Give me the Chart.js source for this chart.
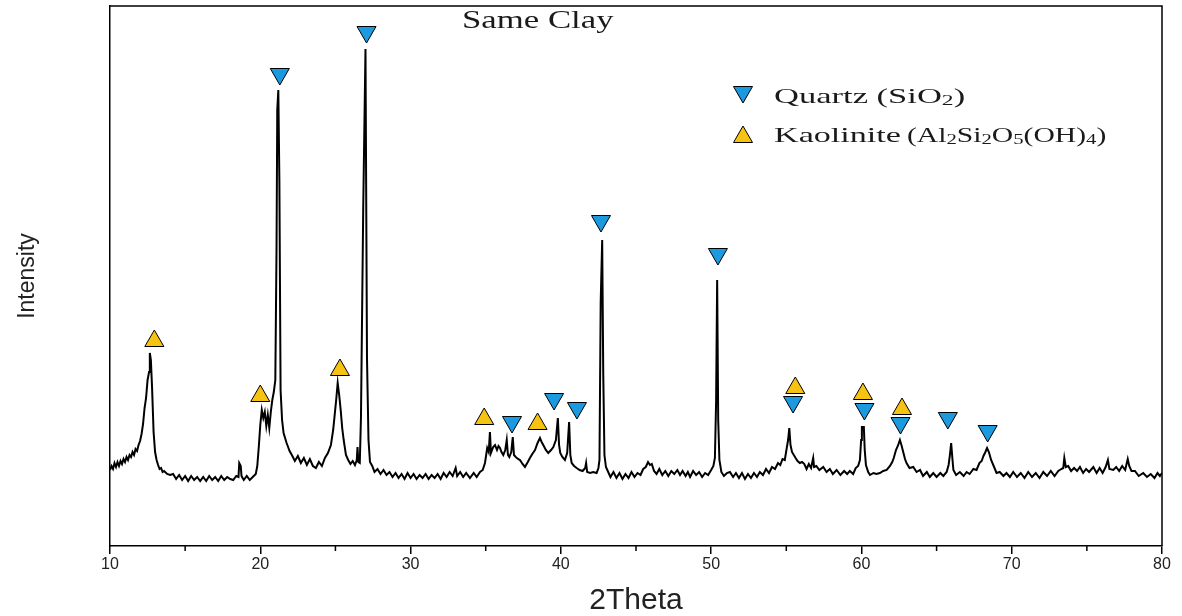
<!DOCTYPE html>
<html>
<head>
<meta charset="utf-8">
<script src="https://cdn.jsdelivr.net/npm/chart.js@4.4.1/dist/chart.umd.min.js"></script>
<style>
    html, body { margin: 0; padding: 0; background: #fff; }
    #wrap { width: 1182px; height: 616px; }
</style>
</head>
<body>
<div id="wrap"><canvas id="xrdChart"></canvas></div>
<script>
// XRD pattern (intensity in arbitrary units)
const twoTheta = [
    10.0, 10.1, 10.2, 10.3, 10.4, 10.5, 10.6, 10.7, 10.8, 10.9,
    11.0, 11.1, 11.2, 11.3, 11.4, 11.5, 11.6, 11.7, 11.8, 11.9,
    12.0, 12.1, 12.2, 12.3, 12.4, 12.5, 12.6, 12.65, 12.72, 12.8,
    12.9, 13.0, 13.1, 13.2, 13.3, 13.4, 13.5, 13.6, 13.8, 14.0,
    14.2, 14.4, 14.6, 14.8, 15.0, 15.2, 15.4, 15.6, 15.8, 16.0,
    16.2, 16.4, 16.6, 16.8, 17.0, 17.2, 17.4, 17.6, 17.8, 18.0,
    18.2, 18.4, 18.55, 18.6, 18.7, 18.75, 18.9, 19.1, 19.3, 19.5,
    19.7, 19.8, 19.9, 20.0, 20.1, 20.2, 20.3, 20.4, 20.5, 20.6,
    20.7, 20.8, 20.9, 21.0, 21.08, 21.13, 21.2, 21.27, 21.35, 21.45,
    21.55, 21.65, 21.75, 21.85, 21.95, 22.1, 22.3, 22.5, 22.7, 22.9,
    23.1, 23.3, 23.5, 23.7, 23.9, 24.1, 24.3, 24.5, 24.7, 24.85,
    24.95, 25.05, 25.15, 25.25, 25.35, 25.45, 25.55, 25.7, 25.85, 26.0,
    26.15, 26.3, 26.42, 26.47, 26.52, 26.62, 26.7, 26.85, 27.0, 27.1,
    27.2, 27.3, 27.45, 27.6, 27.8, 28.0, 28.2, 28.4, 28.6, 28.8,
    29.0, 29.2, 29.4, 29.6, 29.8, 30.0, 30.2, 30.4, 30.6, 30.8,
    31.0, 31.2, 31.4, 31.6, 31.8, 32.0, 32.2, 32.4, 32.6, 32.8,
    33.0, 33.1, 33.3, 33.5, 33.7, 33.95, 34.2, 34.4, 34.62, 34.8,
    34.95, 35.1, 35.2, 35.28, 35.35, 35.5, 35.62, 35.75, 35.85, 35.95,
    36.05, 36.17, 36.3, 36.4, 36.48, 36.57, 36.7, 36.8, 36.88, 37.0,
    37.15, 37.28, 37.45, 37.61, 37.8, 37.94, 38.1, 38.28, 38.45, 38.61,
    38.72, 38.83, 39.0, 39.16, 39.35, 39.5, 39.67, 39.8, 39.88, 39.96,
    40.1, 40.27, 40.42, 40.55, 40.63, 40.72, 40.88, 41.05, 41.25, 41.45,
    41.62, 41.68, 41.75, 41.95, 42.15, 42.38, 42.5, 42.57, 42.65, 42.75,
    42.82, 42.9, 43.0, 43.15, 43.3, 43.5, 43.7, 43.9, 44.1, 44.3,
    44.5, 44.7, 44.9, 45.1, 45.3, 45.48, 45.65, 45.8, 45.93, 46.05,
    46.2, 46.37, 46.55, 46.75, 46.95, 47.15, 47.35, 47.55, 47.75, 47.93,
    48.1, 48.3, 48.45, 48.6, 48.8, 49.0, 49.2, 49.4, 49.6, 49.8,
    50.0, 50.15, 50.25, 50.33, 50.4, 50.47, 50.55, 50.68, 50.85, 51.05,
    51.25, 51.46, 51.65, 51.85, 52.05, 52.25, 52.45, 52.65, 52.85, 53.05,
    53.24, 53.45, 53.65, 53.85, 54.05, 54.25, 54.45, 54.6, 54.75, 54.9,
    55.02, 55.12, 55.2, 55.28, 55.38, 55.5, 55.62, 55.75, 55.9, 56.05,
    56.2, 56.35, 56.5, 56.65, 56.79, 56.85, 57.0, 57.2, 57.46, 57.68,
    57.9, 58.1, 58.35, 58.6, 58.85, 59.05, 59.23, 59.45, 59.62, 59.78,
    59.9, 59.98, 60.03, 60.16, 60.22, 60.3, 60.45, 60.57, 60.8, 61.0,
    61.23, 61.45, 61.68, 61.9, 62.05, 62.15, 62.3, 62.42, 62.56, 62.68,
    62.78, 62.9, 63.0, 63.2, 63.45, 63.67, 63.9, 64.1, 64.35, 64.55,
    64.78, 65.0, 65.25, 65.45, 65.67, 65.8, 65.88, 65.97, 66.05, 66.12,
    66.3, 66.55, 66.8, 67.0, 67.2, 67.45, 67.66, 67.85, 68.0, 68.12,
    68.25, 68.36, 68.48, 68.63, 68.8, 68.99, 69.2, 69.45, 69.65, 69.88,
    70.1, 70.35, 70.6, 70.85, 71.1, 71.35, 71.6, 71.85, 72.1, 72.35,
    72.6, 72.85, 73.1, 73.3, 73.43, 73.5, 73.6, 73.76, 73.95, 74.15,
    74.35, 74.54, 74.75, 74.95, 75.15, 75.43, 75.65, 75.85, 76.05, 76.25,
    76.4, 76.5, 76.76, 76.95, 77.15, 77.35, 77.55, 77.72, 77.82, 77.97,
    78.2, 78.45, 78.75, 79.0, 79.25, 79.5, 79.7, 79.86, 80.0
];
const intensity = [
    76, 80, 77, 83, 79, 84, 80, 85, 82, 87,
    84, 89, 86, 91, 89, 94, 91, 97, 95, 101,
    105, 112, 122, 138, 148, 166, 174, 193, 186, 158,
    114, 94, 86, 81, 77, 78, 74, 75, 72, 71,
    72, 67, 71, 66, 70, 65, 70, 66, 69, 65,
    69, 65, 70, 66, 69, 65, 70, 66, 69, 67,
    66, 70, 69, 83, 80, 70, 66, 70, 66, 69,
    72, 80, 99, 121, 136, 128, 134, 120, 131, 118,
    134, 146, 154, 166, 296, 436, 456, 366, 156, 126,
    113, 108, 103, 99, 95, 91, 85, 90, 83, 88,
    81, 87, 80, 78, 84, 80, 88, 93, 101, 116,
    131, 146, 163, 151, 136, 118, 106, 91, 86, 82,
    85, 81, 86, 99, 84, 83, 129, 338, 497, 188,
    106, 84, 80, 74, 77, 72, 76, 71, 74, 69,
    73, 68, 72, 67, 73, 68, 72, 67, 71, 68,
    72, 67, 71, 68, 72, 67, 73, 69, 74, 70,
    78, 70, 74, 69, 73, 68, 73, 69, 74, 76,
    83, 98, 94, 114, 93, 99, 101, 96, 100, 98,
    94, 91, 96, 106, 91, 89, 94, 109, 91, 89,
    87, 86, 82, 79, 84, 88, 92, 96, 103, 108,
    104, 101, 96, 93, 96, 99, 106, 128, 101, 93,
    89, 86, 93, 124, 91, 83, 80, 78, 76, 75,
    78, 83, 74, 73, 74, 73, 78, 86, 243, 306,
    173, 91, 79, 74, 69, 74, 68, 73, 67, 72,
    68, 74, 69, 73, 71, 77, 79, 84, 81, 82,
    75, 72, 77, 71, 75, 70, 75, 72, 76, 71,
    75, 70, 74, 69, 75, 71, 74, 69, 73, 71,
    76, 80, 88, 144, 266, 126, 86, 74, 70, 73,
    74, 69, 73, 68, 73, 67, 72, 68, 73, 69,
    74, 71, 77, 73, 79, 77, 83, 81, 87, 86,
    97, 106, 118, 101, 94, 91, 88, 85, 83, 84,
    82, 77, 82, 78, 88, 79, 80, 76, 79, 74,
    77, 72, 76, 71, 75, 72, 75, 72, 78, 80,
    86, 106, 119, 119, 96, 81, 74, 71, 73, 72,
    73, 75, 76, 80, 84, 88, 96, 100, 106, 100,
    94, 87, 83, 78, 79, 74, 76, 70, 74, 69,
    73, 69, 73, 70, 74, 81, 90, 103, 88, 76,
    71, 74, 70, 74, 72, 77, 76, 83, 85, 90,
    94, 98, 94, 86, 80, 73, 74, 70, 73, 69,
    74, 69, 73, 68, 74, 69, 73, 68, 74, 70,
    75, 70, 75, 77, 78, 88, 79, 80, 75, 78,
    75, 79, 73, 77, 74, 79, 73, 78, 73, 79,
    86, 77, 76, 79, 75, 80, 76, 87, 80, 75,
    75, 70, 73, 69, 72, 68, 73, 70, 73
];

// phase markers (position, marker height)
const quartzTheta = [21.3, 27.07, 36.75, 39.55, 41.07, 42.67, 50.45, 55.45, 60.2, 62.6, 65.75, 68.4];
const quartzMark = [472, 514, 124, 147, 138, 325, 292, 144, 137, 123, 128, 115];
const kaoliniteTheta = [12.95, 20.0, 25.3, 34.9, 38.45, 55.6, 60.1, 62.7];
const kaoliniteMark = [205, 150, 176, 127, 122, 158, 152, 137];

const xTicks = [10, 20, 30, 40, 50, 60, 70, 80];
const minorTicks = [15, 25, 35, 45, 55, 65, 75];

const quartzColor = '#1c9ae0';
const kaoliniteColor = '#f7c312';
const serif = "'Liberation Serif', 'Times New Roman', serif";

function toPoints(xs, ys) {
    return xs.map((v, i) => ({ x: v, y: ys[i] }));
}

// text in the picture is stretched sideways, so draw it scaled on x
function stretchedText(ctx, parts, x, y, sx) {
    let cx = x;
    parts.forEach(p => {
        ctx.save();
        ctx.font = p.size + 'px ' + serif;
        ctx.translate(cx, y + (p.dy || 0));
        ctx.scale(sx, 1);
        ctx.fillText(p.t, 0, 0);
        cx += ctx.measureText(p.t).width * sx;
        ctx.restore();
    });
}

const decorPlugin = {
    id: 'decor',
    afterDraw(chart) {
        const { ctx, chartArea: a, scales: { x } } = chart;
        ctx.save();
        ctx.strokeStyle = '#000';
        ctx.lineWidth = 1.5;
        // box: top and right edges
        ctx.beginPath();
        ctx.moveTo(a.left, a.top);
        ctx.lineTo(a.right, a.top);
        ctx.lineTo(a.right, a.bottom);
        ctx.stroke();
        // minor ticks
        ctx.beginPath();
        minorTicks.forEach(v => {
            const px = x.getPixelForValue(v);
            ctx.moveTo(px, a.bottom);
            ctx.lineTo(px, a.bottom + 5);
        });
        ctx.stroke();

        // title inside the frame
        ctx.fillStyle = '#1a1a1a';
        ctx.textBaseline = 'alphabetic';
        stretchedText(ctx, [{ t: 'Same Clay', size: 25 }], 462, 28, 1.39);

        // legend
        ctx.lineWidth = 1;
        ctx.fillStyle = quartzColor;
        Chart.helpers.drawPoint(ctx, { pointStyle: 'triangle', radius: 11, rotation: 180, borderWidth: 1 }, 743, 92);
        ctx.fillStyle = kaoliniteColor;
        Chart.helpers.drawPoint(ctx, { pointStyle: 'triangle', radius: 11, rotation: 0, borderWidth: 1 }, 743, 137);

        ctx.fillStyle = '#1a1a1a';
        stretchedText(ctx, [
            { t: 'Quartz (SiO', size: 22 },
            { t: '2', size: 15, dy: 2 },
            { t: ')', size: 22 }
        ], 774, 103, 1.57);
        stretchedText(ctx, [{ t: 'Kaolinite', size: 22 }], 774, 142, 1.55);
        stretchedText(ctx, [
            { t: '(Al', size: 20 },
            { t: '2', size: 14, dy: 2 },
            { t: 'Si', size: 20 },
            { t: '2', size: 14, dy: 2 },
            { t: 'O', size: 20 },
            { t: '5', size: 14, dy: 2 },
            { t: '(OH)', size: 20 },
            { t: '4', size: 14, dy: 2 },
            { t: ')', size: 20 }
        ], 907, 142, 1.48);
        ctx.restore();
    }
};

Chart.defaults.font.family = "'Liberation Sans', Arial, sans-serif";
Chart.defaults.color = '#222';

document.addEventListener('DOMContentLoaded', function () {
    const ctx = document.getElementById('xrdChart');
    new Chart(ctx, {
        type: 'scatter',
        data: {
            datasets: [{
                label: 'Quartz (SiO2)',
                data: toPoints(quartzTheta, quartzMark),
                pointStyle: 'triangle',
                rotation: 180,
                pointRadius: 11,
                pointBackgroundColor: quartzColor,
                pointBorderColor: '#000',
                pointBorderWidth: 1
            }, {
                label: 'Kaolinite (Al2Si2O5(OH)4)',
                data: toPoints(kaoliniteTheta, kaoliniteMark),
                pointStyle: 'triangle',
                pointRadius: 11,
                pointBackgroundColor: kaoliniteColor,
                pointBorderColor: '#000',
                pointBorderWidth: 1
            }, {
                label: 'Same Clay',
                data: toPoints(twoTheta, intensity),
                showLine: true,
                borderColor: '#000',
                borderWidth: 2,
                pointRadius: 0,
                tension: 0
            }]
        },
        options: {
            responsive: true,
            maintainAspectRatio: false,
            animation: false,
            devicePixelRatio: 1,
            layout: { autoPadding: false, padding: { top: 6, right: 20, left: 0, bottom: 0 } },
            plugins: {
                legend: { display: false },
                tooltip: { enabled: false }
            },
            scales: {
                x: {
                    type: 'linear',
                    min: 10,
                    max: 80,
                    afterFit: s => { s.height = 70; },
                    afterBuildTicks: s => { s.ticks = xTicks.map(v => ({ value: v })); },
                    ticks: { font: { size: 16 }, padding: 1, color: '#222' },
                    grid: { drawOnChartArea: false, drawTicks: true, tickLength: 8, color: '#000', lineWidth: 1.5 },
                    border: { display: true, color: '#000', width: 1.5 },
                    title: { display: true, text: '2Theta', font: { size: 30, lineHeight: 1 }, padding: { top: 0, bottom: 0 }, color: '#222' }
                },
                y: {
                    min: 0,
                    max: 540,
                    afterFit: s => { s.width = 110; },
                    ticks: { display: false },
                    grid: { display: false },
                    border: { display: true, color: '#000', width: 1.5 },
                    title: { display: true, text: 'Intensity', font: { size: 23 }, padding: { top: 14, bottom: 14 }, color: '#222' }
                }
            }
        },
        plugins: [decorPlugin]
    });
});
</script>
</body>
</html>
